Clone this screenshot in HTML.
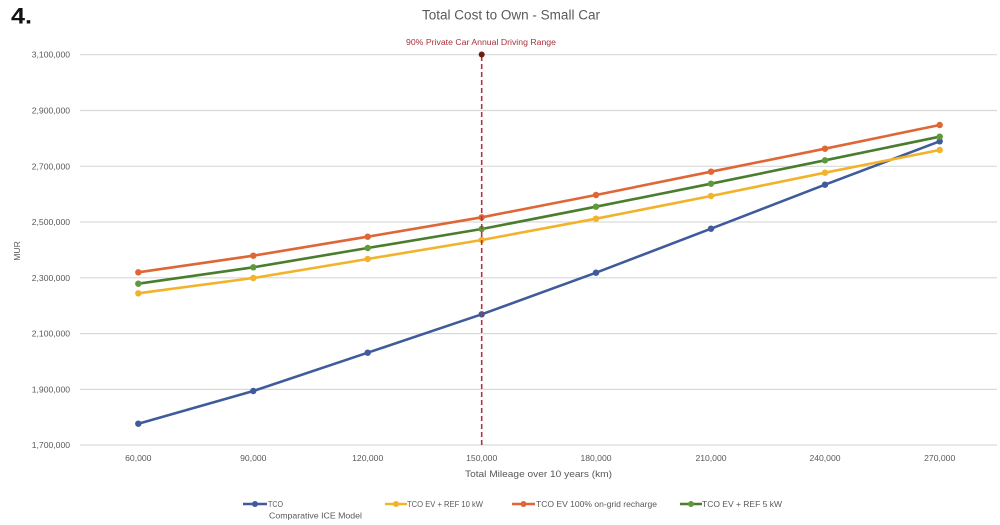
<!DOCTYPE html>
<html>
<head>
<meta charset="utf-8">
<style>
  html,body{margin:0;padding:0;background:#ffffff;}
  svg{display:block;}
  text{font-family:"Liberation Sans",Arial,sans-serif;}
</style>
</head>
<body>
<svg width="1000" height="525" viewBox="0 0 1000 525" xmlns="http://www.w3.org/2000/svg">
  <rect width="1000" height="525" fill="#ffffff"/>

  <!-- "4." -->
  <text x="11" y="23.5" font-size="22" font-weight="bold" fill="#111" textLength="21" lengthAdjust="spacingAndGlyphs">4.</text>

  <!-- Title -->
  <text x="422" y="19.5" font-size="13.5" fill="#595959" textLength="178" lengthAdjust="spacingAndGlyphs">Total Cost to Own - Small Car</text>

  <!-- gridlines -->
  <g stroke="#d9d9d9" stroke-width="1.2">
    <line x1="80" y1="54.7" x2="997" y2="54.7"/>
    <line x1="80" y1="110.5" x2="997" y2="110.5"/>
    <line x1="80" y1="166.3" x2="997" y2="166.3"/>
    <line x1="80" y1="222" x2="997" y2="222"/>
    <line x1="80" y1="277.8" x2="997" y2="277.8"/>
    <line x1="80" y1="333.6" x2="997" y2="333.6"/>
    <line x1="80" y1="389.4" x2="997" y2="389.4"/>
    <line x1="80" y1="445" x2="997" y2="445"/>
  </g>

  <!-- Y labels -->
  <g font-size="8.6" fill="#595959" text-anchor="end">
    <text x="70" y="57.7">3,100,000</text>
    <text x="70" y="113.5">2,900,000</text>
    <text x="70" y="169.3">2,700,000</text>
    <text x="70" y="225">2,500,000</text>
    <text x="70" y="280.8">2,300,000</text>
    <text x="70" y="336.6">2,100,000</text>
    <text x="70" y="392.4">1,900,000</text>
    <text x="70" y="448">1,700,000</text>
  </g>

  <!-- MUR -->
  <text x="0" y="0" font-size="8.6" fill="#595959" text-anchor="middle" transform="translate(20,251) rotate(-90)">MUR</text>

  <!-- X labels -->
  <g font-size="8.6" fill="#595959" text-anchor="middle">
    <text x="138.3" y="461">60,000</text>
    <text x="253.3" y="461">90,000</text>
    <text x="367.7" y="461">120,000</text>
    <text x="481.7" y="461">150,000</text>
    <text x="596" y="461">180,000</text>
    <text x="711" y="461">210,000</text>
    <text x="825" y="461">240,000</text>
    <text x="939.7" y="461">270,000</text>
  </g>

  <!-- X axis title -->
  <text x="465" y="477" font-size="9.2" fill="#595959" textLength="147" lengthAdjust="spacingAndGlyphs">Total Mileage over 10 years (km)</text>

  <!-- Series: TCO (blue) -->
  <g>
    <polyline fill="none" stroke="#3f5b9c" stroke-width="2.6" stroke-linejoin="round"
      points="138.3,423.7 253.3,391 367.7,352.7 481.7,314.3 596,272.7 711,228.7 825,184.7 939.7,141.3"/>
    <g fill="#3f5b9c">
      <circle cx="138.3" cy="423.7" r="3.2"/><circle cx="253.3" cy="391" r="3.2"/>
      <circle cx="367.7" cy="352.7" r="3.2"/><circle cx="481.7" cy="314.3" r="3.2"/>
      <circle cx="596" cy="272.7" r="3.2"/><circle cx="711" cy="228.7" r="3.2"/>
      <circle cx="825" cy="184.7" r="3.2"/><circle cx="939.7" cy="141.3" r="3.2"/>
    </g>
  </g>

  <!-- Series: yellow -->
  <g>
    <polyline fill="none" stroke="#f2b229" stroke-width="2.6" stroke-linejoin="round"
      points="138.3,293.3 253.3,278 367.7,259 481.7,240 596,218.7 711,196 825,172.7 939.7,150"/>
    <g fill="#f2b229">
      <circle cx="138.3" cy="293.3" r="3.2"/><circle cx="253.3" cy="278" r="3.2"/>
      <circle cx="367.7" cy="259" r="3.2"/><circle cx="481.7" cy="240" r="3.2"/>
      <circle cx="596" cy="218.7" r="3.2"/><circle cx="711" cy="196" r="3.2"/>
      <circle cx="825" cy="172.7" r="3.2"/><circle cx="939.7" cy="150" r="3.2"/>
    </g>
  </g>

  <!-- Series: orange -->
  <g>
    <polyline fill="none" stroke="#df6636" stroke-width="2.6" stroke-linejoin="round"
      points="138.3,272.3 253.3,255.7 367.7,236.7 481.7,217.3 596,195 711,171.7 825,148.7 939.7,125"/>
    <g fill="#df6636">
      <circle cx="138.3" cy="272.3" r="3.2"/><circle cx="253.3" cy="255.7" r="3.2"/>
      <circle cx="367.7" cy="236.7" r="3.2"/><circle cx="481.7" cy="217.3" r="3.2"/>
      <circle cx="596" cy="195" r="3.2"/><circle cx="711" cy="171.7" r="3.2"/>
      <circle cx="825" cy="148.7" r="3.2"/><circle cx="939.7" cy="125" r="3.2"/>
    </g>
  </g>

  <!-- Series: green -->
  <g>
    <polyline fill="none" stroke="#4a7d2d" stroke-width="2.6" stroke-linejoin="round"
      points="138.3,283.7 253.3,267.3 367.7,248 481.7,229 596,206.7 711,183.7 825,160.3 939.7,136.7"/>
    <g fill="#5e9a3c">
      <circle cx="138.3" cy="283.7" r="3.2"/><circle cx="253.3" cy="267.3" r="3.2"/>
      <circle cx="367.7" cy="248" r="3.2"/><circle cx="481.7" cy="229" r="3.2"/>
      <circle cx="596" cy="206.7" r="3.2"/><circle cx="711" cy="183.7" r="3.2"/>
      <circle cx="825" cy="160.3" r="3.2"/><circle cx="939.7" cy="136.7" r="3.2"/>
    </g>
  </g>

  <!-- Dashed vertical line -->
  <line x1="481.7" y1="56" x2="481.7" y2="446" stroke="#b8323c" stroke-width="1.6" stroke-dasharray="5,3"/>
  <circle cx="481.7" cy="54.5" r="3" fill="#6e1e10"/>
  <text x="406" y="45" font-size="8" fill="#a8323c" textLength="150" lengthAdjust="spacingAndGlyphs">90% Private Car Annual Driving Range</text>

  <!-- Legend -->
  <g font-size="8.4" fill="#595959">
    <line x1="243" y1="504" x2="267" y2="504" stroke="#3f5b9c" stroke-width="2.6"/>
    <circle cx="255" cy="504" r="3" fill="#3f5b9c"/>
    <text x="268" y="507" textLength="15" lengthAdjust="spacingAndGlyphs">TCO</text>
    <text x="269" y="518.5" textLength="93" lengthAdjust="spacingAndGlyphs">Comparative ICE Model</text>

    <line x1="385" y1="504" x2="407" y2="504" stroke="#f2b229" stroke-width="2.6"/>
    <circle cx="396" cy="504" r="3" fill="#f2b229"/>
    <text x="407" y="507" textLength="76" lengthAdjust="spacingAndGlyphs">TCO EV +  REF 10 kW</text>

    <line x1="512" y1="504" x2="535" y2="504" stroke="#df6636" stroke-width="2.6"/>
    <circle cx="523.5" cy="504" r="3" fill="#df6636"/>
    <text x="536" y="507" textLength="121" lengthAdjust="spacingAndGlyphs">TCO EV 100% on-grid recharge</text>

    <line x1="680" y1="504" x2="702" y2="504" stroke="#4a7d2d" stroke-width="2.6"/>
    <circle cx="691" cy="504" r="3" fill="#5e9a3c"/>
    <text x="702" y="507" textLength="80" lengthAdjust="spacingAndGlyphs">TCO EV +  REF 5 kW</text>
  </g>
</svg>
</body>
</html>
